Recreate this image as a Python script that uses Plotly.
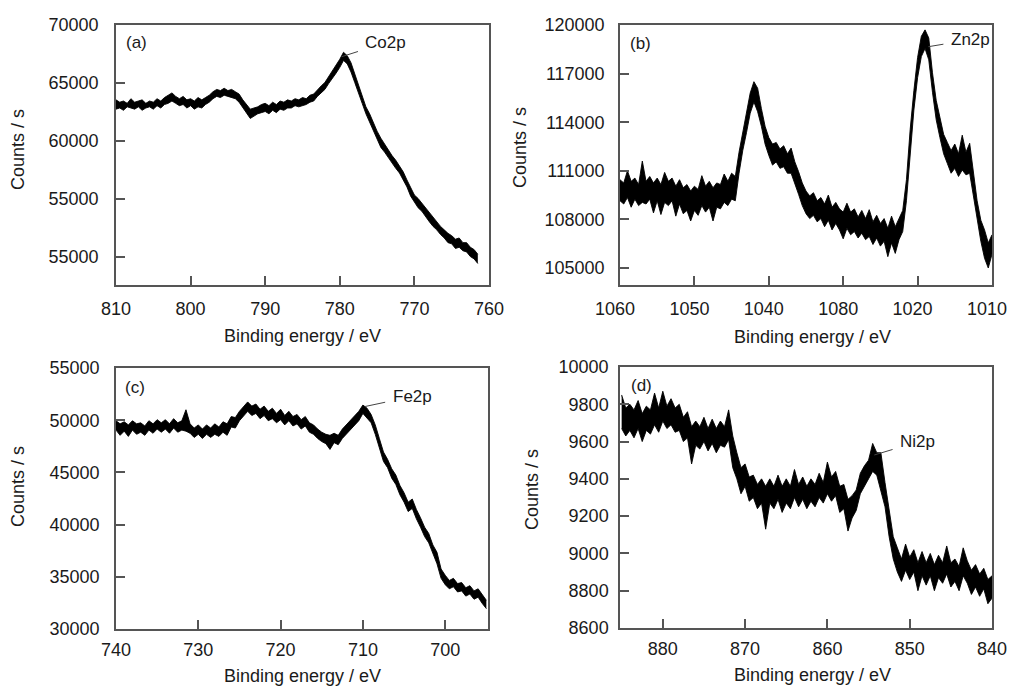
import plotly.graph_objects as go

# ---------------- data ----------------
# Each spectrum is very noisy; for every energy the upper and lower edge of the
# noise band were read from the picture.
co_energy = [810, 809.5, 809, 808.5, 808, 807.5, 807, 806.5, 806, 805.5, 805, 804.5, 804, 803.5, 803, 802.5,
             802, 801.5, 801, 800.5, 800, 799.5, 799, 798.5, 798, 797.5, 797, 796.5, 796, 795.5, 795, 794.5,
             794, 793.5, 793, 792.5, 792, 791.5, 791, 790.5, 790, 789.5, 789, 788.5, 788, 787.5, 787, 786.5,
             786, 785.5, 785, 784.5, 784, 783.5, 783, 782.5, 782, 781.5, 781, 780.5, 780, 779.5, 779, 778.5,
             778, 777.5, 777, 776.5, 776, 775.5, 775, 774.5, 774, 773.5, 773, 772.5, 772, 771.5, 771, 770.5,
             770, 769.5, 769, 768.5, 768, 767.5, 767, 766.5, 766, 765.5, 765, 764.5, 764, 763.5, 763, 762.5,
             762, 761.5]
co_high = [63550, 63350, 63450, 63250, 63650, 63350, 63450, 63550, 63250, 63450, 63350, 63650, 63450, 63750,
           63950, 64150, 63850, 63650, 63850, 63550, 63650, 63450, 63750, 63550, 63750, 63950, 64250, 64450,
           64350, 64550, 64350, 64450, 64250, 64050, 63550, 63150, 62750, 62850, 62950, 63150, 63250, 63050,
           63350, 63150, 63450, 63350, 63550, 63450, 63650, 63550, 63750, 63650, 63950, 64050, 64450, 64750,
           65050, 65550, 66050, 66450, 67050, 67650, 67350, 66750, 65750, 64750, 63850, 62950, 62350, 61550,
           60850, 60250, 59750, 59150, 58750, 58350, 57850, 57350, 56650, 55950, 55350, 55050, 54650, 54150,
           53750, 53450, 52950, 52650, 52350, 52050, 51850, 51550, 51650, 51250, 51250, 50850, 50650, 50250]
co_low = [62750, 62850, 62650, 62950, 62850, 62750, 62950, 62650, 62850, 62950, 62750, 63050, 62850, 63150,
          63250, 63450, 63250, 63050, 63150, 62850, 63050, 62750, 62950, 62850, 63150, 63350, 63650, 63850,
          63750, 63950, 63850, 63750, 63650, 63350, 62850, 62450, 61950, 62150, 62350, 62450, 62550, 62350,
          62650, 62450, 62750, 62650, 62850, 62850, 63050, 62950, 63050, 63150, 63350, 63450, 63850, 64150,
          64450, 64950, 65350, 65850, 66350, 66950, 66650, 65950, 65050, 64050, 63250, 62350, 61650, 60850,
          60250, 59450, 59050, 58550, 58050, 57650, 57250, 56650, 56050, 55250, 54750, 54250, 53950, 53450,
          53050, 52650, 52350, 51950, 51650, 51250, 51150, 50750, 50850, 50550, 50450, 50050, 49850, 49450]

zn_energy = [1060, 1059.5, 1059, 1058.5, 1058, 1057.5, 1057, 1056.5, 1056, 1055.5, 1055, 1054.5, 1054, 1053.5,
             1053, 1052.5, 1052, 1051.5, 1051, 1050.5, 1050, 1049.5, 1049, 1048.5, 1048, 1047.5, 1047, 1046.5,
             1046, 1045.5, 1045, 1044.5, 1044, 1043.5, 1043, 1042.5, 1042, 1041.5, 1041, 1040.5, 1040, 1039.5,
             1039, 1038.5, 1038, 1037.5, 1037, 1036.5, 1036, 1035.5, 1035, 1034.5, 1034, 1033.5, 1033, 1032.5,
             1032, 1031.5, 1031, 1030.5, 1030, 1029.5, 1029, 1028.5, 1028, 1027.5, 1027, 1026.5, 1026, 1025.5,
             1025, 1024.5, 1024, 1023.5, 1023, 1022.5, 1022, 1021.5, 1021, 1020.5, 1020, 1019.5, 1019, 1018.5,
             1018, 1017.5, 1017, 1016.5, 1016, 1015.5, 1015, 1014.5, 1014, 1013.5, 1013, 1012.5, 1012, 1011.5,
             1011, 1010.5, 1010]
zn_high = [110450, 110250, 111000, 110350, 110550, 110150, 111600, 110350, 110650, 110250, 110550, 110150,
           110900, 110350, 110550, 110050, 110450, 109950, 110150, 109750, 110050, 109850, 110700, 110050,
           110350, 109950, 110250, 110150, 110800, 110350, 110850, 110650, 112150, 113450, 114550, 115800,
           116500, 116100, 114850, 113750, 113050, 112650, 112750, 112350, 112550, 112050, 112400, 111550,
           110950, 110250, 109750, 109450, 109650, 109150, 109350, 108950, 109500, 108750, 109050, 108650,
           108450, 109000, 108450, 108650, 108150, 108550, 108050, 108600, 107850, 108250, 107750, 108050,
           107450, 108200, 107550, 108050, 108550, 110450, 113550, 115950, 118000, 119300, 119700, 119200,
           117050, 115350, 114250, 113250, 112750, 112250, 112650, 112050, 113200, 112150, 112700, 110750,
           109150, 107950, 107350, 106550, 107050]
zn_low = [109150, 108950, 109350, 108750, 109250, 108850, 109050, 108950, 109250, 108400, 109150, 108300,
          109050, 108850, 109150, 108200, 108950, 108350, 108550, 107900, 108550, 108250, 108850, 108450,
          108750, 107900, 108750, 108650, 109050, 108850, 109250, 109150, 110850, 112250, 113350, 114550,
          115250, 114650, 113750, 112650, 111950, 111350, 111550, 111150, 111250, 110850, 110850, 110250,
          109550, 108850, 108350, 108050, 108250, 107850, 108050, 107550, 107950, 107350, 107750, 107350,
          106800, 107450, 107050, 107250, 106850, 107150, 106750, 106950, 106450, 106850, 106350, 106650,
          105700, 106550, 105900, 106750, 107250, 109150, 112250, 114750, 116750, 118050, 118550, 117850,
          115850, 114150, 113050, 112050, 111450, 110850, 111150, 110650, 111050, 110750, 110850, 109350,
          107850, 106650, 105600, 105000, 105850]

fe_energy = [740, 739.5, 739, 738.5, 738, 737.5, 737, 736.5, 736, 735.5, 735, 734.5, 734, 733.5, 733, 732.5,
             732, 731.5, 731, 730.5, 730, 729.5, 729, 728.5, 728, 727.5, 727, 726.5, 726, 725.5, 725, 724.5,
             724, 723.5, 723, 722.5, 722, 721.5, 721, 720.5, 720, 719.5, 719, 718.5, 718, 717.5, 717, 716.5,
             716, 715.5, 715, 714.5, 714, 713.5, 713, 712.5, 712, 711.5, 711, 710.5, 710, 709.5, 709, 708.5,
             708, 707.5, 707, 706.5, 706, 705.5, 705, 704.5, 704, 703.5, 703, 702.5, 702, 701.5, 701, 700.5,
             700, 699.5, 699, 698.5, 698, 697.5, 697, 696.5, 696, 695.5, 695]
fe_high = [49950, 49650, 49850, 49550, 49950, 49650, 49750, 49450, 49950, 49650, 50050, 49750, 50050, 49650,
           50150, 49750, 49950, 51000, 49650, 49250, 49550, 49150, 49550, 49250, 49650, 49350, 49850, 49650,
           50350, 50250, 50850, 51350, 51750, 51350, 51550, 51050, 51350, 50850, 51150, 50650, 51050, 50450,
           50850, 50350, 50550, 50050, 50350, 49750, 49550, 49150, 48850, 48650, 48550, 48750, 48550, 49150,
           49550, 49950, 50450, 50850, 51450, 51150, 50550, 49550, 48250, 46950, 46250, 45350, 44750, 43750,
           43050, 42150, 42450, 41450, 40650, 39750, 39150, 38050, 37350, 35750, 35150, 34650, 34850, 34350,
           34450, 33950, 34150, 33650, 33850, 33250, 32750]
fe_low = [49050, 48550, 48950, 48450, 49050, 48650, 48850, 48550, 49050, 48750, 49150, 48850, 49150, 48750,
          49250, 48850, 49050, 48950, 48750, 48350, 48650, 48250, 48650, 48350, 48650, 48450, 48850, 48550,
          49350, 49250, 49950, 50450, 50850, 50450, 50650, 50150, 50450, 49950, 50150, 49750, 50050, 49550,
          49950, 49450, 49650, 49150, 49450, 48850, 48650, 48250, 47950, 47750, 47200, 47850, 47650, 48250,
          48650, 49050, 49550, 49950, 50650, 50250, 49750, 48650, 47350, 46050, 45450, 44450, 43850, 42850,
          42150, 41250, 41550, 40550, 39750, 38850, 38250, 37150, 36250, 34850, 34250, 33850, 34050, 33550,
          33650, 33150, 33350, 32850, 33050, 32450, 31950]

ni_energy = [885, 884.5, 884, 883.5, 883, 882.5, 882, 881.5, 881, 880.5, 880, 879.5, 879, 878.5, 878, 877.5,
             877, 876.5, 876, 875.5, 875, 874.5, 874, 873.5, 873, 872.5, 872, 871.5, 871, 870.5, 870, 869.5,
             869, 868.5, 868, 867.5, 867, 866.5, 866, 865.5, 865, 864.5, 864, 863.5, 863, 862.5, 862, 861.5,
             861, 860.5, 860, 859.5, 859, 858.5, 858, 857.5, 857, 856.5, 856, 855.5, 855, 854.5, 854, 853.5,
             853, 852.5, 852, 851.5, 851, 850.5, 850, 849.5, 849, 848.5, 848, 847.5, 847, 846.5, 846, 845.5,
             845, 844.5, 844, 843.5, 843, 842.5, 842, 841.5, 841, 840.5, 840]
ni_high = [9850, 9780, 9800, 9770, 9820, 9750, 9790, 9770, 9860, 9780, 9870, 9790, 9830, 9780, 9800, 9730,
           9760, 9680, 9710, 9680, 9730, 9670, 9720, 9670, 9710, 9680, 9770, 9630, 9540, 9460, 9480, 9410,
           9420, 9370, 9400, 9360, 9400, 9360, 9420, 9360, 9400, 9360, 9450, 9370, 9410, 9360, 9400, 9370,
           9430, 9380, 9490, 9410, 9440, 9360, 9370, 9290, 9310, 9340, 9430, 9470, 9500, 9590, 9540, 9540,
           9380, 9230, 9090, 9030, 8970, 9050, 8980, 9020, 8950, 9010, 8950, 9000, 8940, 8990, 8950, 9040,
           8950, 8970, 8930, 9030, 8960, 8910, 8940, 8890, 8920, 8860, 8880]
ni_low = [9670, 9630, 9660, 9620, 9670, 9600, 9660, 9640, 9690, 9650, 9710, 9670, 9690, 9650, 9660, 9600,
          9620, 9480, 9580, 9560, 9600, 9550, 9590, 9540, 9580, 9570, 9610, 9460, 9400, 9320, 9360, 9280,
          9300, 9240, 9270, 9130, 9270, 9240, 9290, 9220, 9270, 9240, 9300, 9250, 9290, 9240, 9280, 9250,
          9300, 9270, 9320, 9280, 9310, 9220, 9240, 9120, 9190, 9230, 9320, 9360, 9400, 9440, 9420, 9340,
          9250, 9090, 8970, 8900, 8850, 8910, 8860, 8900, 8800, 8880, 8830, 8880, 8800, 8870, 8840, 8890,
          8820, 8850, 8800, 8880, 8840, 8780, 8820, 8770, 8810, 8730, 8760]

# tick labels (as printed in the original figure)
a_xticks = [810, 800, 790, 780, 770, 760]
a_yticks = [70000, 65000, 60000, 55000, 50000]
a_yticktext = ["70000", "65000", "60000", "55000", "55000"]
b_xticks = [1060, 1050, 1040, 1030, 1020, 1010]
b_xticktext = ["1060", "1050", "1040", "1080", "1020", "1010"]
b_yticks = [120000, 117000, 114000, 111000, 108000, 105000]
c_xticks = [740, 730, 720, 710, 700]
c_yticks = [55000, 50000, 45000, 40000, 35000, 30000]
d_xticks = [880, 870, 860, 850, 840]
d_yticks = [10000, 9800, 9600, 9400, 9200, 9000, 8800, 8600]

panel_labels = ["(a)", "(b)", "(c)", "(d)"]
peak_labels = ["Co2p", "Zn2p", "Fe2p", "Ni2p"]
x_title = "Binding energy / eV"
y_title = "Counts / s"

# ---------------- layout helpers (pixel geometry) ----------------
W, H = 1010, 688   # full window; the page body margin is removed by post_script
OFF = 0


def px(x):
    return (x - OFF) / W


def py(y):
    return 1 - (y - OFF) / H


FONT = "Liberation Sans, Arial, Helvetica, sans-serif"
TXT = "#1a1a1a"
FRAME = "#555555"

panels = [
    dict(e=co_energy, hi=co_high, lo=co_low, xr=[810, 760], yr=[47600, 70000], xt=a_xticks,
         xtt=[str(v) for v in a_xticks], yt=a_yticks, ytt=a_yticktext, box=(116, 489, 25, 285), ystd=12, xstd=7,
         xshift=0),
    dict(e=zn_energy, hi=zn_high, lo=zn_low, xr=[1060, 1010], yr=[103950, 120000], xt=b_xticks,
         xtt=b_xticktext, yt=b_yticks, ytt=[str(v) for v in b_yticks], box=(620, 992, 25, 285), ystd=10, xstd=7,
         xshift=5),
    dict(e=fe_energy, hi=fe_high, lo=fe_low, xr=[740, 694.8], yr=[30000, 55000], xt=c_xticks,
         xtt=[str(v) for v in c_xticks], yt=c_yticks, ytt=[str(v) for v in c_yticks], box=(116, 488, 368, 629),
         ystd=11, xstd=4, xshift=0),
    dict(e=ni_energy, hi=ni_high, lo=ni_low, xr=[885.2, 840], yr=[8600, 10000], xt=d_xticks,
         xtt=[str(v) for v in d_xticks], yt=d_yticks, ytt=[str(v) for v in d_yticks], box=(620, 992, 367, 628),
         ystd=6, xstd=4, xshift=0),
]

fig = go.Figure()
layout = dict(
    width=W, height=H, autosize=False,
    margin=dict(l=0, r=0, t=0, b=0, autoexpand=False),
    paper_bgcolor="white", plot_bgcolor="white",
    showlegend=False,
    font=dict(family=FONT, size=18, color=TXT),
)

for i, p in enumerate(panels):
    n = "" if i == 0 else str(i + 1)
    l, r, t, b = p["box"]
    # lower edge of the noisy spectrum, then the upper edge filled down to it
    fig.add_trace(go.Scatter(x=p["e"], y=p["lo"], mode="lines",
                             line=dict(color="black", width=0.9),
                             xaxis="x" + n, yaxis="y" + n, hoverinfo="skip"))
    fig.add_trace(go.Scatter(x=p["e"], y=p["hi"], mode="lines",
                             line=dict(color="black", width=0.9),
                             fill="tonexty", fillcolor="black",
                             xaxis="x" + n, yaxis="y" + n, hoverinfo="skip"))
    common = dict(
        ticks="inside", ticklen=9, tickwidth=1.5, tickcolor=FRAME,
        showline=True, linecolor=FRAME, linewidth=1.5, mirror=True,
        showgrid=False, zeroline=False, automargin=False,
        tickfont=dict(family=FONT, size=18, color=TXT),
    )
    layout["xaxis" + n] = dict(
        domain=[px(l), px(r)], range=p["xr"], anchor="y" + n,
        tickmode="array", tickvals=p["xt"], ticktext=p["xtt"],
        ticklabelstandoff=p["xstd"], ticklabelshift=p["xshift"], ticklabeloverflow="allow", **common)
    layout["yaxis" + n] = dict(
        domain=[py(b), py(t)], range=p["yr"], anchor="x" + n,
        tickmode="array", tickvals=p["yt"], ticktext=p["ytt"],
        ticklabelstandoff=p["ystd"], ticklabeloverflow="allow", **common)

annotations = []
# axis titles
xt_pos = [(302, 336), (812, 337), (302, 676), (812, 675)]
yt_pos = [(18, 150), (520, 148), (18, 487), (532, 490)]
for (xx, yy) in xt_pos:
    annotations.append(dict(text=x_title, x=px(xx), y=py(yy), xref="paper", yref="paper",
                            xanchor="center", yanchor="middle", showarrow=False,
                            font=dict(family=FONT, size=18, color=TXT)))
for (xx, yy) in yt_pos:
    annotations.append(dict(text=y_title, x=px(xx), y=py(yy), xref="paper", yref="paper",
                            xanchor="center", yanchor="middle", showarrow=False, textangle=-90,
                            font=dict(family=FONT, size=18, color=TXT)))
# panel labels
pl_pos = [(136, 42), (640, 43), (135, 387), (641, 385)]
for lab, (xx, yy) in zip(panel_labels, pl_pos):
    annotations.append(dict(text=lab, x=px(xx), y=py(yy), xref="paper", yref="paper",
                            xanchor="center", yanchor="middle", showarrow=False,
                            font=dict(family=FONT, size=17, color=TXT)))
# peak labels with short leader lines
peak_pts = [(779.75, 67270, 44, -14), (1018.56, 118660, 42, -7), (709.74, 51310, 47, -10), (854.3, 9528, 43, -13)]
for i, (lab, (ex, cy, ax, ay)) in enumerate(zip(peak_labels, peak_pts)):
    n = "" if i == 0 else str(i + 1)
    annotations.append(dict(text=lab, x=ex, y=cy, xref="x" + n, yref="y" + n,
                            showarrow=True, arrowhead=0, arrowwidth=1, arrowcolor="#444444",
                            ax=ax, ay=ay, startstandoff=6,
                            font=dict(family=FONT, size=17, color=TXT)))

layout["annotations"] = annotations
fig.update_layout(**layout)
fig.write_html("out.html", config={"displayModeBar": False},
               post_script="document.body.style.margin='0';document.body.style.overflow='hidden';")
